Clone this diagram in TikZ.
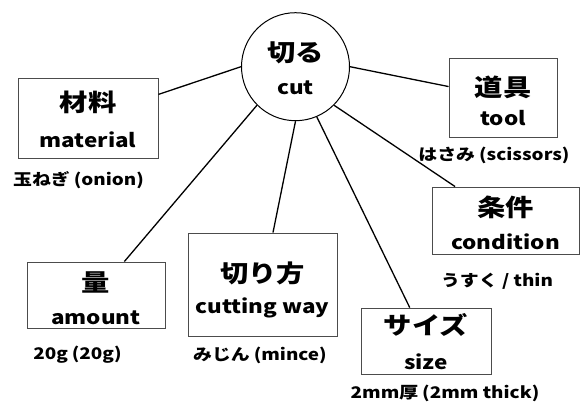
\documentclass[tikz,border=0pt]{standalone}
\usepackage{fontspec}
\setmainfont{Noto Sans CJK JP}[FakeStretch=1.18]
\begin{document}
\begin{tikzpicture}[x=1pt,y=-1pt,
  box/.style={draw=black!70,line width=0.9pt,inner sep=0pt},
  hub/.style={draw=black,line width=1pt,circle,inner sep=0pt,minimum size=108pt},
  jp/.style={font=\fontsize{24}{24}\selectfont\bfseries,inner sep=0pt},
  en/.style={font=\fontsize{19}{19}\selectfont\bfseries,inner sep=0pt},
  captext/.style={font=\fontsize{16}{16}\selectfont\bfseries,inner sep=0pt},
  link/.style={line width=1.3pt}]
\useasboundingbox (0,0) rectangle (581,405);
\fill[white] (0,0) rectangle (581,405);
\node[hub] (c) at (295.5,66.7) {};
\node[jp] (cj) at (295.5,53) {切る};
\node[en] (ce) at (295.5,88) {cut};
% boxes
\node[box,minimum width=140pt,minimum height=80pt] (mat) at (88,118) {};
\node[jp] (matj) at (88,102) {材料};
\node[en] (mate) at (88,140) {material};
\node[captext] (matc) at (78.5,180) {玉ねぎ\hspace{4pt}(onion)};
\node[box,minimum width=108pt,minimum height=79pt] (tool) at (503,97.5) {};
\node[jp] (toolj) at (503,87) {道具};
\node[en] (toole) at (503,118) {tool};
\node[captext] (toolc) at (494,155) {はさみ\hspace{4pt}(scissors)};
\node[box,minimum width=147pt,minimum height=67pt] (cond) at (505.5,220.5) {};
\node[jp] (condj) at (505.5,207) {条件};
\node[en] (conde) at (505.5,242) {condition};
\node[captext] (condc) at (497,281) {うすく / thin};
\node[box,minimum width=138pt,minimum height=66pt] (amt) at (96,295) {};
\node[jp] (amtj) at (96,282) {量};
\node[en] (amte) at (96,318) {amount};
\node[captext] (amtc) at (77.5,355) {20g\hspace{4pt}(20g)};
\node[box,minimum width=149pt,minimum height=103pt] (way) at (262.5,284.5) {};
\node[jp] (wayj) at (262.5,273) {切り方};
\node[en] (waye) at (262.5,308) {cutting way};
\node[captext] (wayc) at (260,355) {みじん\hspace{4pt}(mince)};
\node[box,minimum width=130pt,minimum height=66pt] (size) at (426,341) {};
\node[jp] (sizej) at (426,325) {サイズ};
\node[en] (sizee) at (426,362) {size};
\node[captext] (sizec) at (445,393) {2mm厚\hspace{4pt}(2mm thick)};
% links
\draw[link] (c.180) -- (mat);
\draw[link] (c.0) -- (tool);
\draw[link] (c.225) -- (amt);
\draw[link] (c.270) -- (way);
\draw[link] (c.293) -- (size);
\draw[link] (c.315) -- (cond);
\end{tikzpicture}
\end{document}
